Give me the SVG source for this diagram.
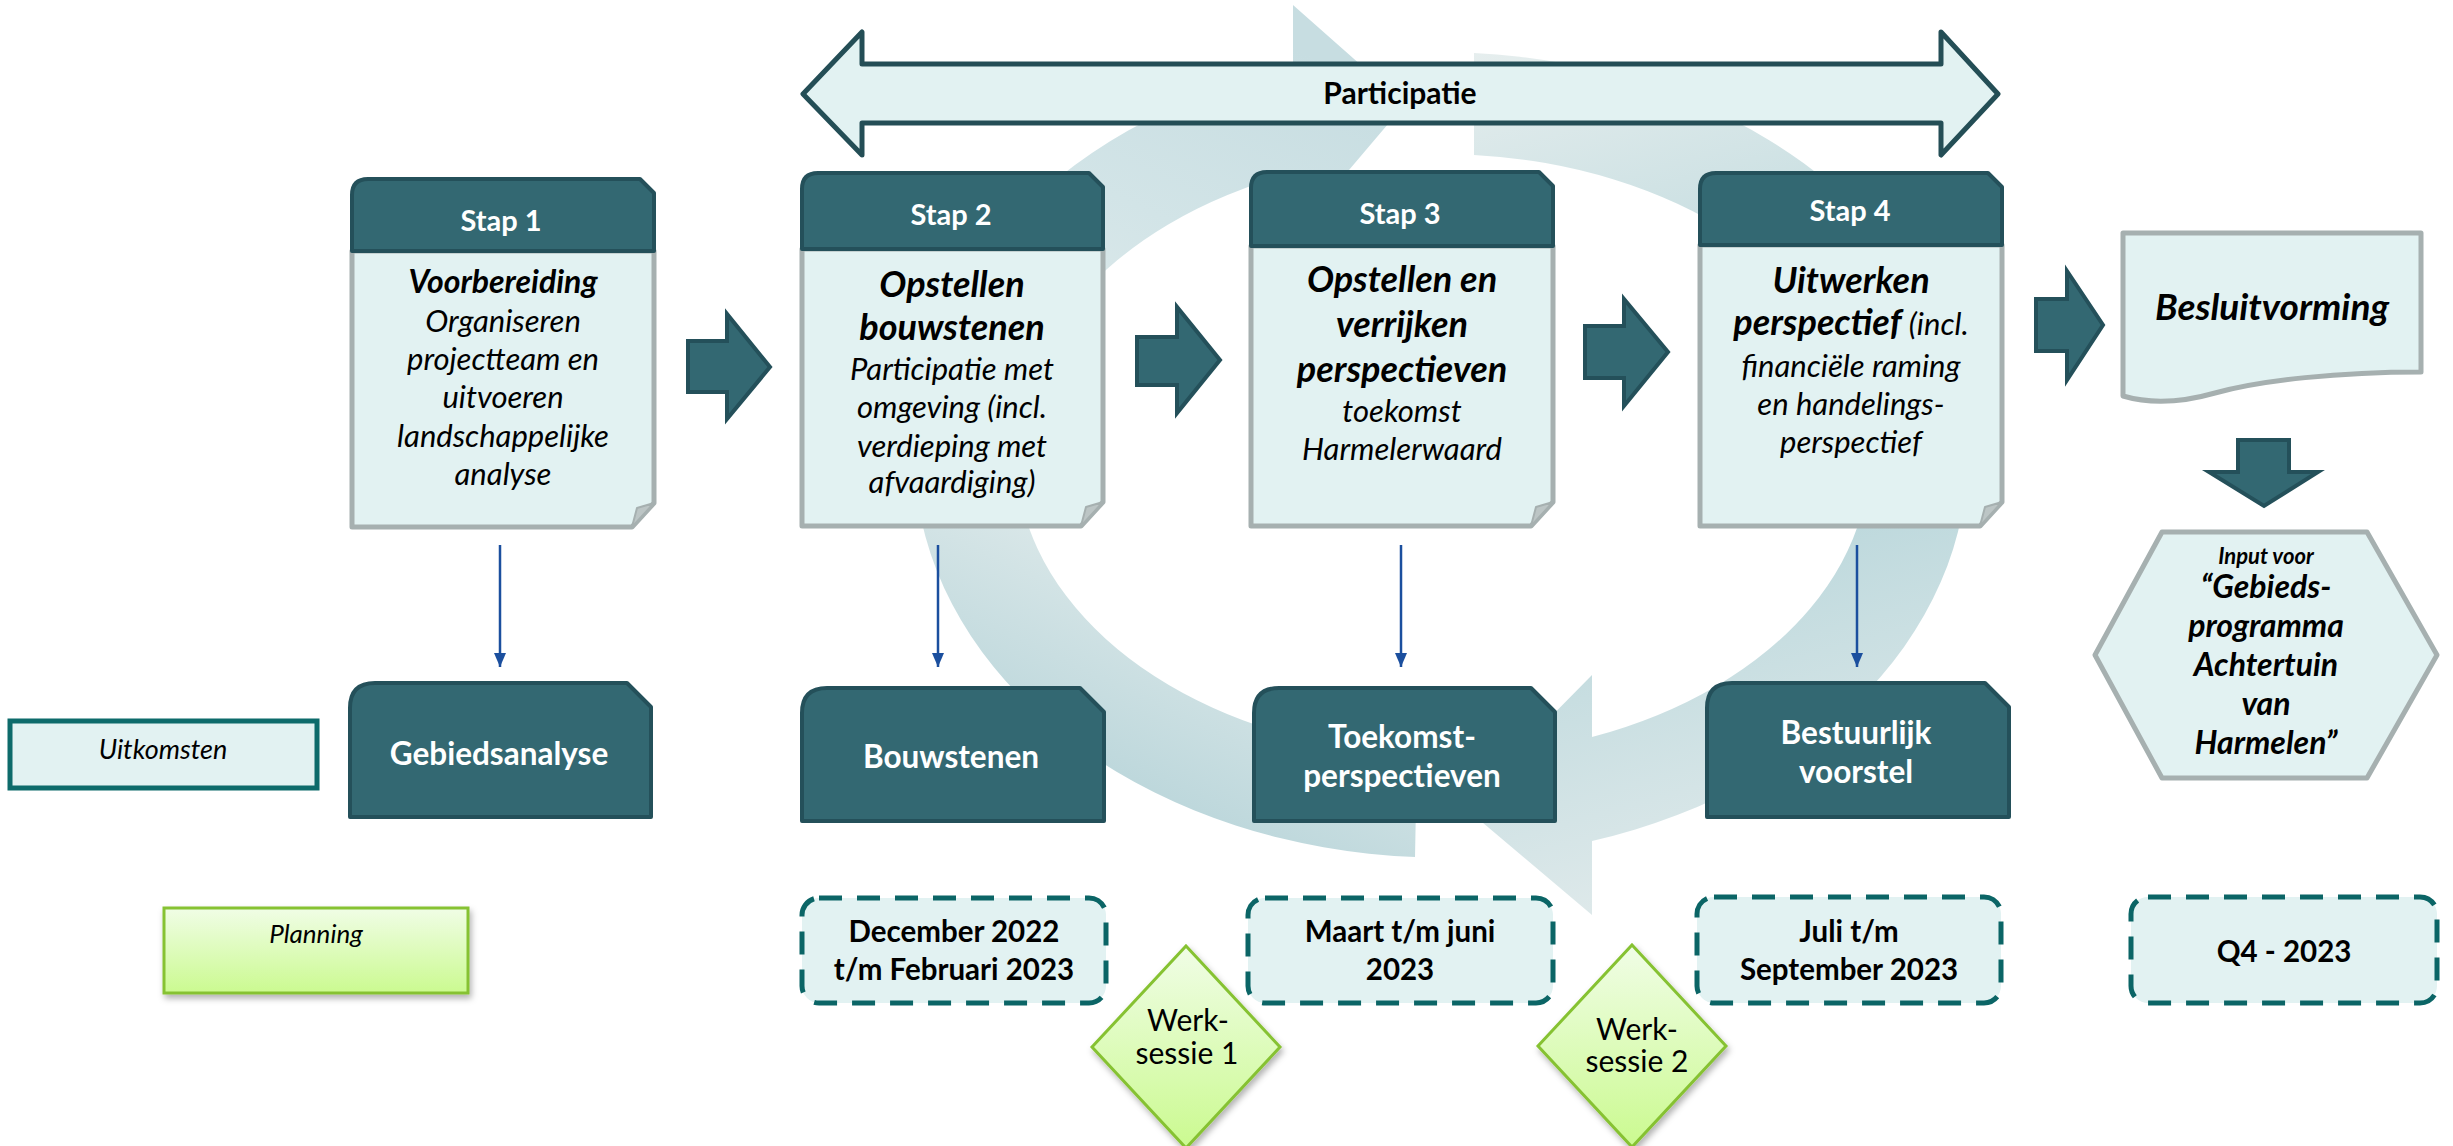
<svg xmlns="http://www.w3.org/2000/svg" width="2453" height="1146" viewBox="0 0 2453 1146">
<defs>
<style>
.hdr{fill:#336872;stroke:#24505a;stroke-width:4;stroke-linejoin:round}
.body{fill:#e2f2f2;stroke:#a6b0b0;stroke-width:5;stroke-linejoin:round}
.fold{fill:#bcc5c5;stroke:#a6b0b0;stroke-width:2;stroke-linejoin:round}
.blk{fill:#336872;stroke:#24505a;stroke-width:4;stroke-linejoin:miter}
.date{fill:#e2f2f2;stroke:#0b6566;stroke-width:5;stroke-dasharray:23 15}
.gray{fill:#e2f2f2;stroke:#a6b0b0;stroke-width:5;stroke-linejoin:round}
.green{fill:url(#gr);stroke:#86c232;stroke-width:3;filter:url(#sh)}
.t{font-family:Lato,"Liberation Sans",sans-serif;text-anchor:middle;fill:#000}
.w{fill:#fff;font-weight:bold;font-size:29px}
.o{fill:#fff;font-weight:bold;font-size:31.5px}
.d{font-weight:bold;font-size:29.5px}
.bi{font-style:italic;font-weight:bold}
.i{font-style:italic}
.b{font-style:italic;font-size:31px}
.h{font-style:italic;font-weight:bold;font-size:36px}
.x{font-style:italic;font-weight:bold;font-size:32px}
.conn{stroke:#1b4f9e;stroke-width:2.5;fill:none;marker-end:url(#ah)}
</style>
<marker id="ah" markerUnits="userSpaceOnUse" markerWidth="14" markerHeight="12" refX="14" refY="6" orient="auto">
<path d="M0,0 L14,6 L0,12 Z" fill="#1b4f9e"/>
</marker>
<linearGradient id="gr" x1="0" y1="0" x2="0" y2="1">
<stop offset="0" stop-color="#f0fde6"/>
<stop offset="1" stop-color="#cbfa90"/>
</linearGradient>
<linearGradient id="bandA" gradientUnits="userSpaceOnUse" x1="960" y1="820" x2="1320" y2="60">
<stop offset="0" stop-color="#aecfd5"/>
<stop offset="0.45" stop-color="#e4eded"/>
<stop offset="0.75" stop-color="#d2e4e7"/>
<stop offset="1" stop-color="#c7dde1"/>
</linearGradient>
<linearGradient id="bandB" gradientUnits="userSpaceOnUse" x1="1480" y1="50" x2="1720" y2="900">
<stop offset="0" stop-color="#e6eeee"/>
<stop offset="0.5" stop-color="#b2d3d8"/>
<stop offset="1" stop-color="#e0eaeb"/>
</linearGradient>
<filter id="sh" x="-20%" y="-20%" width="140%" height="150%">
<feDropShadow dx="2" dy="4" stdDeviation="3" flood-color="#000" flood-opacity="0.3"/>
</filter>
</defs>

<g id="cycle-background">
<path d="M1415,857 A528,403 0 0 1 1293,68 L1293,5 L1405,104 L1293,236 L1293,173 A428,301 0 0 0 1417,755 Z" fill="url(#bandA)"/>
<path d="M1474,53 A528,403 0 0 1 1592,841 L1592,915 L1463,806 L1592,675 L1592,737 A428,301 0 0 0 1474,155 Z" fill="url(#bandB)"/>
</g>

<g id="participatie">
<path d="M803,94 L862,32 L862,64 L1941,64 L1941,32 L1998,94 L1941,155 L1941,123 L862,123 L862,155 Z" fill="#e2f2f2" stroke="#244e56" stroke-width="5" stroke-linejoin="round"/>
<text class="t" x="1400" y="104" font-size="30" font-weight="bold">Participatie</text>
</g>

<g id="connectors">
<path class="blk" d="M688,341 L727,341 L727,314 L770,367 L727,419 L727,392 L688,392 Z"/>
<path class="blk" d="M1137,337 L1177,337 L1177,307 L1220,360 L1177,413 L1177,385 L1137,385 Z"/>
<path class="blk" d="M1585,326 L1624,326 L1624,299 L1668,352 L1624,406 L1624,378 L1585,378 Z"/>
<path class="blk" d="M2036,299 L2067,299 L2067,271 L2103,325 L2067,380 L2067,351 L2036,351 Z"/>
<path class="blk" d="M2238,440 L2289,440 L2289,472 L2318,472 L2264,506 L2209,472 L2238,472 Z"/>
<line class="conn" x1="500" y1="545" x2="500" y2="667"/>
<line class="conn" x1="938" y1="545" x2="938" y2="667"/>
<line class="conn" x1="1401" y1="545" x2="1401" y2="667"/>
<line class="conn" x1="1857" y1="545" x2="1857" y2="667"/>
</g>

<g id="stap1">
<path class="body" d="M352,251 L654,251 L654,503 L632,527 L352,527 Z"/>
<path class="fold" d="M654,503 L632,527 L637,508 Z"/>
<path class="hdr" d="M352,251 L352,195 Q352,179 368,179 L640,179 L654,193 L654,251 Z"/>
<text class="t w" x="501" y="231">Stap 1</text>
<text class="t bi" x="503" y="293" font-size="32">Voorbereiding</text>
<text class="t b" x="503" y="332">Organiseren</text>
<text class="t b" x="503" y="370">projectteam en</text>
<text class="t b" x="503" y="408">uitvoeren</text>
<text class="t b" x="503" y="447">landschappelijke</text>
<text class="t b" x="503" y="485">analyse</text>
</g>

<g id="stap2">
<path class="body" d="M802,249 L1103,249 L1103,502 L1081,526 L802,526 Z"/>
<path class="fold" d="M1103,502 L1081,526 L1086,507 Z"/>
<path class="hdr" d="M802,249 L802,189 Q802,173 818,173 L1089,173 L1103,187 L1103,249 Z"/>
<text class="t w" x="951" y="225">Stap 2</text>
<text class="t h" x="952" y="297">Opstellen</text>
<text class="t h" x="952" y="340">bouwstenen</text>
<text class="t b" x="952" y="380">Participatie met</text>
<text class="t b" x="952" y="418">omgeving (incl.</text>
<text class="t b" x="952" y="457">verdieping met</text>
<text class="t b" x="952" y="493">afvaardiging)</text>
</g>

<g id="stap3">
<path class="body" d="M1251,246 L1553,246 L1553,502 L1531,526 L1251,526 Z"/>
<path class="fold" d="M1553,502 L1531,526 L1536,507 Z"/>
<path class="hdr" d="M1251,246 L1251,188 Q1251,172 1267,172 L1539,172 L1553,186 L1553,246 Z"/>
<text class="t w" x="1400" y="224">Stap 3</text>
<text class="t h" x="1402" y="292">Opstellen en</text>
<text class="t h" x="1402" y="337">verrijken</text>
<text class="t h" x="1402" y="382">perspectieven</text>
<text class="t b" x="1402" y="422">toekomst</text>
<text class="t b" x="1402" y="460">Harmelerwaard</text>
</g>

<g id="stap4">
<path class="body" d="M1700,245 L2002,245 L2002,502 L1980,526 L1700,526 Z"/>
<path class="fold" d="M2002,502 L1980,526 L1985,507 Z"/>
<path class="hdr" d="M1700,245 L1700,189 Q1700,173 1716,173 L1988,173 L2002,187 L2002,245 Z"/>
<text class="t w" x="1850" y="221">Stap 4</text>
<text class="t h" x="1851" y="293">Uitwerken</text>
<text class="t" x="1851" y="335"><tspan class="h">perspectief</tspan><tspan class="b"> (incl.</tspan></text>
<text class="t b" x="1851" y="377">financiële raming</text>
<text class="t b" x="1851" y="415">en handelings-</text>
<text class="t b" x="1851" y="453">perspectief</text>
</g>

<g id="besluitvorming">
<path class="gray" d="M2123,233 L2421,233 L2421,372 C2340,372 2262,380 2215,393 C2180,403 2150,404 2123,396 Z"/>
<text class="t bi" x="2272" y="320" font-size="37">Besluitvorming</text>
</g>

<g id="input-gebiedsprogramma">
<path class="gray" d="M2162,532 L2367,532 L2437,655 L2367,778 L2162,778 L2095,655 Z"/>
<text class="t bi" x="2266" y="564" font-size="22">Input voor</text>
<text class="t x" x="2266" y="598">“Gebieds-</text>
<text class="t x" x="2266" y="637">programma</text>
<text class="t x" x="2266" y="676">Achtertuin</text>
<text class="t x" x="2266" y="715">van</text>
<text class="t x" x="2266" y="754">Harmelen”</text>
</g>

<g id="legend-uitkomsten">
<rect x="10" y="721" width="307" height="67" fill="#e2f2f2" stroke="#0d6b6b" stroke-width="5"/>
<text class="t i" x="163" y="759" font-size="27">Uitkomsten</text>
</g>

<g id="legend-planning">
<rect class="green" x="164" y="908" width="304" height="85"/>
<text class="t i" x="316" y="943" font-size="26">Planning</text>
</g>

<g id="gebiedsanalyse">
<path class="hdr" d="M350,817 L350,708 Q350,683 375,683 L627,683 L651,707 L651,817 Z"/>
<text class="t o" x="499" y="765">Gebiedsanalyse</text>
</g>

<g id="bouwstenen">
<path class="hdr" d="M802,821 L802,713 Q802,688 827,688 L1080,688 L1104,712 L1104,821 Z"/>
<text class="t o" x="951" y="768">Bouwstenen</text>
</g>

<g id="toekomstperspectieven">
<path class="hdr" d="M1254,821 L1254,713 Q1254,688 1279,688 L1531,688 L1555,712 L1555,821 Z"/>
<text class="t o" x="1402" y="748">Toekomst-</text>
<text class="t o" x="1402" y="787">perspectieven</text>
</g>

<g id="bestuurlijk-voorstel">
<path class="hdr" d="M1707,817 L1707,708 Q1707,683 1732,683 L1985,683 L2009,707 L2009,817 Z"/>
<text class="t o" x="1856" y="744">Bestuurlijk</text>
<text class="t o" x="1856" y="783">voorstel</text>
</g>

<g id="planning-stap2">
<rect class="date" x="802" y="898" width="304" height="105" rx="17"/>
<text class="t d" x="954" y="942">December 2022</text>
<text class="t d" x="954" y="980">t/m Februari 2023</text>
</g>

<g id="planning-stap3">
<rect class="date" x="1248" y="898" width="305" height="105" rx="17"/>
<text class="t d" x="1400" y="942">Maart t/m juni</text>
<text class="t d" x="1400" y="980">2023</text>
</g>

<g id="planning-stap4">
<rect class="date" x="1697" y="897" width="304" height="106" rx="17"/>
<text class="t d" x="1849" y="942">Juli t/m</text>
<text class="t d" x="1849" y="980">September 2023</text>
</g>

<g id="planning-besluit">
<rect class="date" x="2131" y="897" width="306" height="106" rx="17"/>
<text class="t d" x="2284" y="962">Q4 - 2023</text>
</g>

<g id="werksessie1">
<path class="green" d="M1186,946 L1280,1047 L1186,1148 L1092,1047 Z" stroke-width="2.5"/>
<text class="t" x="1188" y="1031" font-size="30">Werk-</text>
<text class="t" x="1187" y="1064" font-size="30">sessie 1</text>
</g>

<g id="werksessie2">
<path class="green" d="M1632,945 L1726,1046 L1632,1147 L1538,1046 Z" stroke-width="2.5"/>
<text class="t" x="1637" y="1040" font-size="30">Werk-</text>
<text class="t" x="1637" y="1072" font-size="30">sessie 2</text>
</g>
</svg>
